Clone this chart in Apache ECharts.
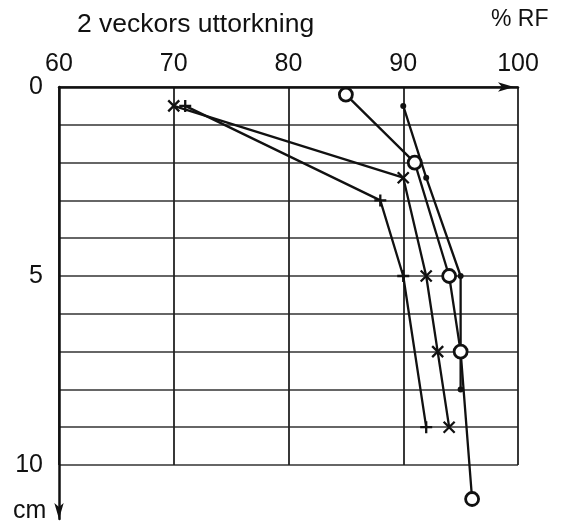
<!DOCTYPE html>
<html>
<head>
<meta charset="utf-8">
<script src="https://cdn.jsdelivr.net/npm/echarts@6/dist/echarts.min.js"></script>
<style>
html,body{margin:0;padding:0;background:#fff;}
#c{width:563px;height:529px;}
</style>
</head>
<body>
<div id="c"></div>
<script>
// Data (x = % RF, y = depth in cm)
var xTicks = [60, 70, 80, 90, 100];
var yLabelValues = [0, 5, 10];
var seriesCircle = [[85, 0.2], [91, 2], [94, 5], [95, 7], [96, 10.9]];
var seriesDot = [[90, 0.5], [92, 2.4], [95, 5], [95, 8]];
var seriesCross = [[70, 0.5], [90, 2.4], [92, 5], [93, 7], [94, 9]];
var seriesPlus = [[71, 0.5], [88, 3], [90, 5], [92, 9]];

var FONT = 'Liberation Sans';
var INK = '#111';

var chart = echarts.init(document.getElementById('c'), null, {renderer: 'canvas'});

var crossPath = 'path://M0,0L10,10M10,0L0,10';
var plusPath = 'path://M5,0L5,10M0,5L10,5';

function lineSeries(data, symbol, size, itemStyle) {
  return {
    type: 'line',
    xAxisIndex: 0,
    yAxisIndex: 0,
    data: data,
    symbol: symbol,
    symbolSize: size,
    showAllSymbol: true,
    clip: false,
    lineStyle: {color: INK, width: 2.3},
    itemStyle: itemStyle,
    emphasis: {disabled: true},
    z: 5,
    animation: false
  };
}

var option = {
  backgroundColor: '#fff',
  animation: false,
  title: [
    {text: '2 veckors uttorkning', left: 72, top: 6,
     textStyle: {fontFamily: FONT, fontSize: 26.5, fontWeight: 'normal', color: INK}},
    {text: '% RF', left: 486, top: 3,
     textStyle: {fontFamily: FONT, fontSize: 23, fontWeight: 'normal', color: INK}},
    {text: 'cm', left: 8, top: 494,
     textStyle: {fontFamily: FONT, fontSize: 25, fontWeight: 'normal', color: INK}}
  ],
  grid: [
    {left: 59, right: 45, top: 87, height: 378, containLabel: false},
    {left: 59, right: 45, top: 87, height: 432, containLabel: false}
  ],
  xAxis: [
    {
      gridIndex: 0, type: 'value', position: 'top',
      min: xTicks[0], max: xTicks[xTicks.length - 1], interval: 10,
      axisLine: {show: true, lineStyle: {color: INK, width: 2.5},
                 symbol: ['none', 'arrow'], symbolSize: [7, 16], symbolOffset: [0, -4]},
      axisTick: {show: false},
      axisLabel: {show: true, margin: 10, color: INK, fontFamily: FONT, fontSize: 25,
                  formatter: function (v) { return xTicks.indexOf(v) >= 0 ? String(v) : ''; }},
      splitLine: {show: true, lineStyle: {color: '#222', width: 1.8}}
    },
    {
      gridIndex: 1, type: 'value', show: false, min: 0, max: 1
    }
  ],
  yAxis: [
    {
      gridIndex: 0, type: 'value', inverse: true,
      min: 0, max: 10, interval: 1,
      axisLine: {show: false},
      axisTick: {show: false},
      axisLabel: {show: true, margin: 16, color: INK, fontFamily: FONT, fontSize: 25,
                  formatter: function (v) { return yLabelValues.indexOf(v) >= 0 ? String(v) : ''; }},
      splitLine: {show: true, lineStyle: {color: '#333', width: 1.5}}
    },
    {
      gridIndex: 1, type: 'value', inverse: true, min: 0, max: 1,
      axisLine: {show: true, onZero: false, lineStyle: {color: INK, width: 2.5},
                 symbol: ['arrow', 'none'], symbolSize: [7, 16]},
      axisTick: {show: false},
      axisLabel: {show: false},
      splitLine: {show: false}
    }
  ],
  series: [
    lineSeries(seriesCircle, 'circle', 13, {color: '#fff', borderColor: INK, borderWidth: 2.8}),
    lineSeries(seriesDot, 'circle', 6, {color: INK, borderColor: INK, borderWidth: 0}),
    lineSeries(seriesCross, crossPath, 11, {color: 'none', borderColor: INK, borderWidth: 2.3}),
    lineSeries(seriesPlus, plusPath, 12, {color: 'none', borderColor: INK, borderWidth: 2.3})
  ]
};

chart.setOption(option);
</script>
</body>
</html>
